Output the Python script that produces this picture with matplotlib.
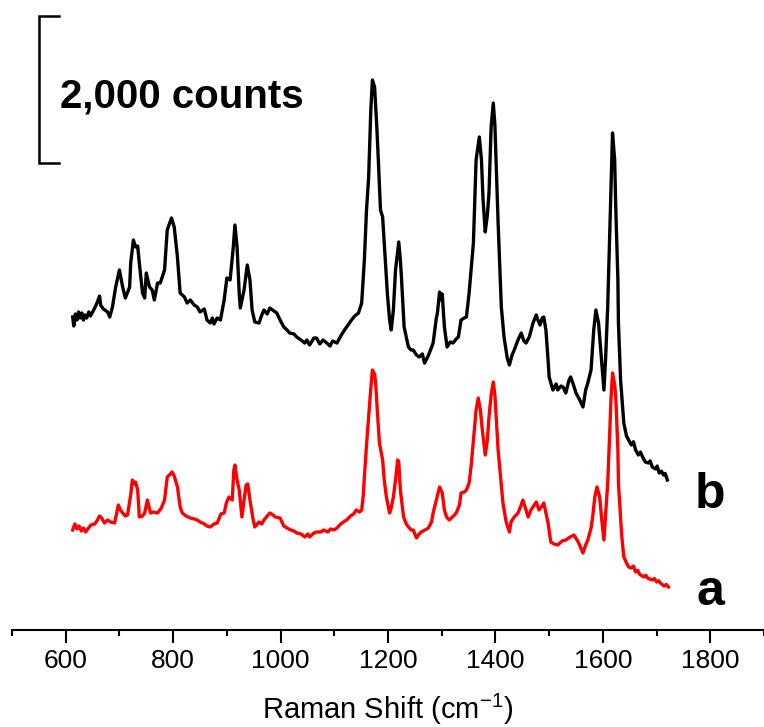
import matplotlib as mpl

mpl.use('Agg')

import matplotlib.pyplot as plt

plt.rcParams['font.family'] = ['Liberation Sans', 'DejaVu Sans']

# спектр b (верхний, чёрный): волновое число, см^-1 и интенсивность, отсчёты
shift_b = [613, 615, 618, 621, 624, 627, 630, 633, 636, 639, 643, 646, 654, 659, 663, 665,
           670, 678, 682, 687, 693, 700, 706, 711, 719, 721, 726, 730, 734, 737, 743, 747,
           750, 756, 761, 765, 771, 776, 784, 789, 797, 802, 808, 813, 821, 826, 832, 839,
           845, 850, 858, 863, 869, 873, 876, 882, 888, 895, 900, 906, 912, 915, 919, 923,
           925, 932, 938, 943, 947, 952, 960, 965, 969, 975, 980, 988, 993, 999, 1006, 1012,
           1017, 1025, 1030, 1038, 1045, 1049, 1054, 1062, 1067, 1073, 1079, 1086, 1092, 1097,
           1105, 1112, 1119, 1127, 1132, 1138, 1145, 1151, 1156, 1160, 1164, 1168, 1171, 1175,
           1179, 1182, 1186, 1190, 1195, 1199, 1203, 1206, 1210, 1214, 1220, 1223, 1225, 1230,
           1238, 1243, 1247, 1253, 1258, 1264, 1268, 1273, 1277, 1284, 1290, 1292, 1296, 1299,
           1301, 1305, 1310, 1316, 1321, 1327, 1331, 1336, 1342, 1346, 1351, 1359, 1364, 1370,
           1374, 1377, 1381, 1385, 1388, 1392, 1396, 1399, 1405, 1411, 1416, 1422, 1426, 1431,
           1435, 1442, 1448, 1453, 1457, 1463, 1470, 1476, 1479, 1483, 1487, 1490, 1494, 1498,
           1500, 1507, 1513, 1516, 1522, 1526, 1531, 1537, 1540, 1546, 1550, 1557, 1563, 1568,
           1572, 1578, 1583, 1587, 1592, 1596, 1602, 1605, 1609, 1613, 1615, 1618, 1622, 1624,
           1628, 1629, 1633, 1639, 1644, 1648, 1653, 1657, 1661, 1666, 1670, 1674, 1679, 1685,
           1688, 1692, 1698, 1701, 1705, 1709, 1713, 1716, 1720]
counts_b = [4257, 4134, 4298, 4216, 4325, 4243, 4311, 4216, 4284, 4243, 4325, 4270, 4379, 4461, 4542, 4420,
            4366, 4325, 4257, 4393, 4665, 4896, 4665, 4515, 4665, 4991, 5304, 5209, 5222, 4991, 4583, 4515,
            4855, 4665, 4624, 4488, 4719, 4719, 4896, 5440, 5603, 5481, 5073, 4583, 4529, 4447, 4488, 4420,
            4393, 4325, 4366, 4216, 4175, 4243, 4162, 4243, 4216, 4488, 4787, 4760, 5209, 5508, 5209, 4583,
            4379, 4624, 4964, 4760, 4352, 4189, 4175, 4284, 4352, 4298, 4379, 4338, 4311, 4216, 4121, 4080,
            4039, 4026, 3985, 3944, 3903, 3944, 3876, 3971, 3971, 3890, 3944, 3903, 3862, 3930,
            3903, 3998, 4080, 4162, 4216, 4270, 4311, 4447, 5032, 5712, 6161, 7072, 7480, 7385,
            6868, 6392, 5712, 5617, 5032, 4556, 4216, 4080, 4352, 4896, 5277, 5032, 4801, 4121,
            3849, 3808, 3808, 3740, 3713, 3754, 3631, 3699, 3767, 3903, 4243, 4311, 4597, 4488,
            4570, 4121, 3849, 3917, 3903, 3958, 3985, 4216, 4243, 4257, 4583, 5263, 6392, 6705,
            6392, 5848, 5413, 5644, 5943, 6841, 7167, 6868, 5535, 4393, 3985, 3699, 3604, 3740,
            3808, 3944, 4039, 3930, 3903, 3985, 4175, 4284, 4216, 4148, 4243, 4257, 4080, 3672,
            3441, 3264, 3346, 3264, 3318, 3305, 3223, 3400, 3441, 3318, 3223, 3128, 3033, 3264,
            3359, 3536, 4080, 4352, 4175, 3808, 3264, 3672, 4393, 5440, 5984, 6759, 6392, 5753,
            4760, 4175, 3400, 2815, 2638, 2584, 2516, 2560, 2448, 2380, 2420, 2353, 2285, 2271,
            2300, 2217, 2190, 2230, 2135, 2160, 2108, 2130, 2040]

# спектр a (нижний, красный)
shift_a = [613, 617, 621, 625, 629, 633, 637, 641, 647, 654, 659, 663, 667, 672, 678, 683,
           691, 695, 698, 702, 706, 711, 715, 721, 724, 728, 730, 734, 737, 743, 747, 752,
           758, 763, 771, 778, 784, 789, 795, 798, 802, 808, 813, 817, 824, 832, 839, 845,
           850, 858, 863, 869, 876, 882, 889, 895, 899, 904, 910, 913, 915, 919, 923, 928,
           932, 936, 939, 943, 949, 952, 960, 965, 969, 975, 980, 986, 990, 999, 1006, 1012,
           1019, 1025, 1030, 1038, 1045, 1051, 1054, 1062, 1067, 1075, 1080, 1088, 1093, 1099,
           1105, 1112, 1117, 1123, 1130, 1136, 1141, 1147, 1151, 1154, 1156, 1160, 1164, 1168,
           1171, 1175, 1177, 1180, 1184, 1190, 1193, 1197, 1203, 1206, 1210, 1214, 1218, 1220,
           1223, 1229, 1234, 1238, 1243, 1247, 1253, 1258, 1262, 1269, 1275, 1281, 1284, 1290,
           1296, 1301, 1305, 1309, 1314, 1320, 1327, 1333, 1336, 1342, 1346, 1351, 1355, 1359,
           1364, 1368, 1372, 1375, 1381, 1385, 1388, 1392, 1396, 1399, 1405, 1411, 1414, 1420,
           1426, 1429, 1435, 1442, 1448, 1451, 1457, 1461, 1466, 1470, 1476, 1481, 1487, 1490,
           1494, 1498, 1503, 1509, 1516, 1524, 1531, 1539, 1546, 1552, 1555, 1563, 1568, 1572,
           1578, 1581, 1585, 1589, 1594, 1598, 1602, 1605, 1609, 1613, 1615, 1618, 1622, 1624,
           1628, 1629, 1635, 1639, 1644, 1648, 1653, 1657, 1661, 1665, 1668, 1672, 1676, 1680,
           1683, 1688, 1692, 1696, 1700, 1704, 1707, 1711, 1714, 1718, 1722]
counts_a = [1360, 1442, 1374, 1414, 1346, 1387, 1333, 1374, 1428, 1442, 1496, 1550, 1523, 1455, 1496, 1470,
            1455, 1591, 1700, 1632, 1591, 1550, 1564, 1836, 2040, 1986, 2013, 1904, 1537, 1550, 1591, 1768,
            1591, 1605, 1591, 1659, 1768, 2081, 2122, 2149, 2094, 1945, 1673, 1591, 1550, 1523, 1510, 1496,
            1469, 1442, 1414, 1401, 1442, 1455, 1578, 1591, 1727, 1809, 1768, 2176, 2244, 2040, 1904, 1537,
            1768, 1972, 1986, 1768, 1496, 1401, 1469, 1442, 1496, 1550, 1591, 1564, 1537, 1523, 1414, 1387,
            1360, 1346, 1319, 1306, 1265, 1306, 1265, 1319, 1333, 1333, 1360, 1333, 1374, 1360,
            1387, 1442, 1469, 1496, 1550, 1578, 1632, 1605, 1632, 1836, 2081, 2516, 2897, 3291,
            3536, 3482, 3359, 2992, 2543, 2312, 2040, 1809, 1591, 1659, 1809, 2040, 2312, 2285,
            1904, 1537, 1442, 1401, 1360, 1360, 1251, 1306, 1333, 1360, 1387, 1469, 1591, 1768,
            1945, 1863, 1632, 1537, 1496, 1537, 1591, 1700, 1863, 1877, 1904, 1999, 2244, 2584,
            2992, 3155, 2992, 2761, 2380, 2584, 2897, 3196, 3373, 3196, 2448, 1972, 1727, 1469,
            1333, 1469, 1537, 1591, 1700, 1768, 1632, 1537, 1632, 1673, 1741, 1632, 1686, 1727,
            1591, 1455, 1197, 1170, 1156, 1210, 1224, 1265, 1292, 1224, 1183, 1047, 1156, 1224,
            1387, 1537, 1809, 1945, 1809, 1496, 1224, 1564, 1999, 2720, 3128, 3495, 3332, 3169,
            2448, 1999, 1292, 993, 911, 857, 843, 870, 789, 810, 762, 740, 721, 745,
            707, 690, 680, 700, 653, 670, 639, 615, 598, 620, 585]

# масштабная метка: 2000 отсчётов
scale_x = 550
scale_y0, scale_y1 = 6350, 8350


def plot_spectra():
    fig = plt.figure(figsize=(7.64, 7.27), dpi=100)
    ax = fig.add_axes([12 / 764, 97 / 727, 1 - 12 / 764, 630 / 727])

    ax.plot(shift_b, counts_b, c='k', lw=2.4, solid_joinstyle='round')
    ax.plot(shift_a, counts_a, c='r', lw=2.4, solid_joinstyle='round')

    ax.set_xlim(500, 1895)
    ax.set_ylim(0, 8568)

    # скобка масштаба по интенсивности
    ax.plot([scale_x + 37, scale_x, scale_x, scale_x + 37],
            [scale_y1, scale_y1, scale_y0, scale_y0], c='k', lw=1.8, solid_joinstyle='miter')
    fig.text(60 / 764, 1 - 107 / 727, '2,000 counts', fontsize=29, fontweight='bold',
             ha='left', va='baseline')

    fig.text(695 / 764, 1 - 508 / 727, 'b', fontsize=36, fontweight='bold', ha='left', va='baseline')
    fig.text(697 / 764, 1 - 605 / 727, 'a', fontsize=36, fontweight='bold', ha='left', va='baseline')

    for side in ('left', 'right', 'top'):
        ax.spines[side].set_visible(False)
    ax.spines['bottom'].set_linewidth(1.5)
    ax.set_yticks([])

    ax.set_xticks(range(600, 1801, 200))
    ax.set_xticks(range(500, 1901, 100), minor=True)
    ax.tick_params(axis='x', which='major', length=9, width=1.5, labelsize=19, pad=5)
    ax.tick_params(axis='x', which='minor', length=4.5, width=1.5)
    ax.set_xlabel('Raman Shift (cm$^{\\mathregular{-1}}$)', fontsize=21, labelpad=13)

    fig.savefig('out.png', dpi=100)


plot_spectra()
